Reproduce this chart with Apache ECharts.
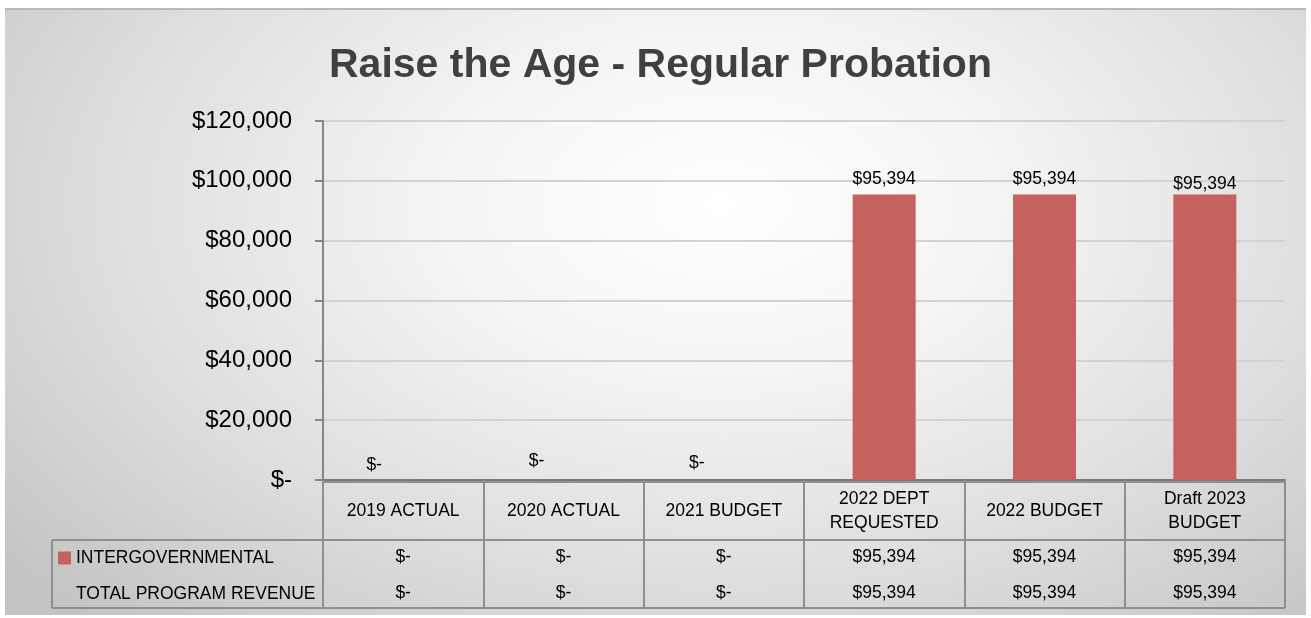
<!DOCTYPE html>
<html>
<head>
<meta charset="utf-8">
<script src="https://cdn.jsdelivr.net/npm/echarts@6/dist/echarts.min.js"></script>
<style>
  html, body { margin: 0; padding: 0; background: #ffffff; }
  #bg {
    position: absolute; left: 5px; top: 8px; width: 1301px; height: 605px;
    border-top: 2px solid #b9b9b9;
    background: radial-gradient(ellipse 72% 95% at 55% 32%, #ffffff 0%, #f4f4f4 30%, #dedede 65%, #c3c3c3 100%);
  }
  #chart { position: absolute; left: 0; top: 0; width: 1311px; height: 618px; }
</style>
</head>
<body>
<div id="bg"></div>
<div id="chart"></div>
<script>
// ---- data ----
const title = 'Raise the Age - Regular Probation';
const categories = ['2019 ACTUAL', '2020 ACTUAL', '2021 BUDGET', '2022 DEPT\nREQUESTED', '2022 BUDGET', 'Draft 2023\nBUDGET'];
const seriesNames = ['INTERGOVERNMENTAL', 'TOTAL PROGRAM REVENUE'];
const intergovernmental = [0, 0, 0, 95394, 95394, 95394];
const totalProgramRevenue = [0, 0, 0, 95394, 95394, 95394];
const yMin = 0, yMax = 120000, yInterval = 20000;

// ---- styling ----
const FONT = 'Liberation Sans';
const labelOffsets = [[-29, 0], [-27, -4], [-27, -2], [0, 0], [0, 0], [0, 5]];
const gridLeft = 323, gridRight = 26, gridTop = 121, gridBottom = 138;
const tableBottomRow = 128;   // axis -> table bottom
const tableLeft = 52;

function fmt(v) {
  if (v === 0) return '$-';
  return '$' + Number(v).toLocaleString('en-US');
}

const chart = echarts.init(document.getElementById('chart'), null, { renderer: 'canvas' });

function valueAxisRow(values, margin) {
  return {
    type: 'category', data: categories, gridIndex: 0, position: 'bottom',
    axisLine: { show: false }, axisTick: { show: false }, splitLine: { show: false },
    axisLabel: {
      interval: 0, margin: margin, verticalAlign: 'middle',
      fontFamily: FONT, fontSize: 17.5, color: '#000',
      formatter: (v, i) => fmt(values[i])
    }
  };
}

const option = {
  backgroundColor: 'transparent',
  animation: false,
  title: {
    text: title, left: 324, top: 40, padding: 5,
    textStyle: { fontFamily: FONT, fontSize: 41, fontWeight: 'bold', color: '#404040' }
  },
  legend: {
    orient: 'vertical', left: 58, top: 549, padding: 0,
    itemWidth: 13, itemHeight: 13, itemGap: 18, selectedMode: false,
    textStyle: { fontFamily: FONT, fontSize: 17.5, color: '#000' },
    data: [
      { name: seriesNames[0], icon: 'rect' },
      { name: seriesNames[1], icon: 'rect', itemStyle: { opacity: 0 } }
    ]
  },
  grid: { left: gridLeft, right: gridRight, top: gridTop, bottom: gridBottom, containLabel: false },
  xAxis: [
    {
      type: 'category', data: categories, gridIndex: 0, position: 'bottom',
      axisLine: { show: true, lineStyle: { color: '#7a7a7a', width: 2 } },
      axisTick: { show: true, interval: 0, length: tableBottomRow, lineStyle: { color: '#8f8f8f', width: 2 } },
      axisLabel: {
        interval: 0, margin: 31, verticalAlign: 'middle',
        fontFamily: FONT, fontSize: 17.5, lineHeight: 24, color: '#000'
      }
    },
    valueAxisRow(intergovernmental, 77),
    valueAxisRow(totalProgramRevenue, 113)
  ],
  yAxis: {
    type: 'value', min: yMin, max: yMax, interval: yInterval,
    axisLine: { show: true, lineStyle: { color: '#868686', width: 2 } },
    axisTick: { show: true, length: 8, lineStyle: { color: '#868686', width: 2 } },
    splitLine: { show: true, lineStyle: { color: '#d2d2d2', width: 2 } },
    axisLabel: { margin: 31, fontFamily: FONT, fontSize: 24, color: '#000', formatter: v => fmt(v) }
  },
  series: [
    {
      name: seriesNames[0], type: 'bar', xAxisIndex: 0, barWidth: 63,
      itemStyle: { color: '#c5615f', borderWidth: 0 },
      label: {
        show: true, position: 'top', distance: 6,
        fontFamily: FONT, fontSize: 17.5, color: '#000',
        formatter: p => fmt(p.value)
      },
      data: intergovernmental.map((v, i) => ({ value: v, label: { offset: labelOffsets[i] } }))
    },
    {
      name: seriesNames[1], type: 'line', xAxisIndex: 0, silent: true,
      showSymbol: false, symbol: 'none',
      lineStyle: { opacity: 0 }, itemStyle: { color: '#c5615f' },
      data: totalProgramRevenue
    }
  ]
};
chart.setOption(option);

// table borders, positioned from the axis geometry
const axisY = chart.convertToPixel({ yAxisIndex: 0 }, 0);
const rightX = 1311 - gridRight;
const rowTop = axisY + 60;
const rowBottom = axisY + tableBottomRow;
const lineStyle = { stroke: '#8f8f8f', lineWidth: 2 };
chart.setOption({
  graphic: [
    { type: 'line', shape: { x1: tableLeft, y1: rowTop, x2: rightX, y2: rowTop }, style: lineStyle },
    { type: 'line', shape: { x1: tableLeft, y1: rowBottom, x2: rightX, y2: rowBottom }, style: lineStyle },
    { type: 'line', shape: { x1: tableLeft, y1: rowTop, x2: tableLeft, y2: rowBottom }, style: lineStyle },
    { type: 'line', shape: { x1: gridLeft, y1: axisY + 2, x2: rightX, y2: axisY + 2 }, style: lineStyle }
  ]
});
</script>
</body>
</html>
